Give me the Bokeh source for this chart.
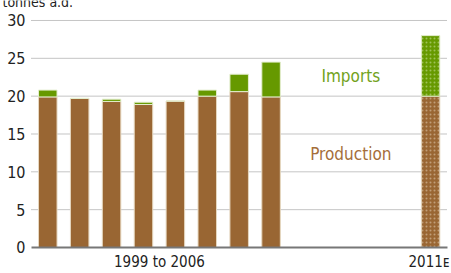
from bokeh.plotting import figure
from bokeh.models import ColumnDataSource, Label, Range1d
from bokeh.core.properties import value
from bokeh.embed import file_html
from bokeh.resources import INLINE

# Data
years_hist = ["1999", "2000", "2001", "2002", "2003", "2004", "2005", "2006"]
pos_hist = [0, 1, 2, 3, 4, 5, 6, 7]
production_hist = [19.9, 19.7, 19.3, 18.9, 19.35, 20.0, 20.6, 19.9]
imports_hist = [0.9, 0.0, 0.3, 0.3, 0.0, 0.8, 2.3, 4.6]
pos_2011 = [12]
production_2011 = [20.0]
imports_2011 = [8.0]
y_ticks = [0, 5, 10, 15, 20, 25, 30]
x_label_pos = [3.5, 11.95]
x_labels = ["1999 to 2006", "2011\u1d07"]
unit_label = "tonnes a.d."

BROWN = "#996633"
GREEN = "#669900"
FONT = "DejaVu Sans Condensed"

X_LO, X_HI = -0.51, 12.53   # extent of the plotted area (grid / axis line)

p = figure(width=451, height=273, output_backend="svg", toolbar_location=None,
           x_range=Range1d(-1.482, 12.656), y_range=Range1d(-3.436, 32.64),
           min_border_left=0, min_border_right=0, min_border_top=0, min_border_bottom=0,
           margin=(0, 0, 0, 0))
p.outline_line_color = None
p.background_fill_color = "white"
p.border_fill_color = "white"
p.xaxis.visible = False
p.yaxis.visible = False
p.xgrid.grid_line_color = None
p.ygrid.grid_line_color = None

# dotted gridlines
grid_src = ColumnDataSource(dict(y=y_ticks[1:]))
p.segment(x0=X_LO, x1=X_HI, y0="y", y1="y", source=grid_src, line_color="#8a8a8a",
          line_dash="1 1", line_width=1)

src = ColumnDataSource(dict(x=pos_hist, prod=production_hist, imp=imports_hist,
                            tot=[a + b for a, b in zip(production_hist, imports_hist)]))
src2 = ColumnDataSource(dict(x=pos_2011, prod=production_2011, imp=imports_2011,
                             tot=[a + b for a, b in zip(production_2011, imports_2011)]))

p.vbar(x="x", bottom=0, top="prod", width=0.58, source=src, fill_color=BROWN,
       line_color="#e6d8c0", line_width=1)
p.vbar(x="x", bottom="prod", top="tot", width=0.58, source=src, fill_color=GREEN,
       line_color="#e4eecf", line_width=1)
p.vbar(x="x", bottom=0, top="prod", width=0.58, source=src2, fill_color=BROWN,
       line_color="#e6d8c0", line_width=1, hatch_pattern=".", hatch_color="#e8d8c0",
       hatch_alpha=0.5, hatch_scale=4, hatch_weight=1)
p.vbar(x="x", bottom="prod", top="tot", width=0.58, source=src2, fill_color=GREEN,
       line_color="#e4eecf", line_width=1, hatch_pattern=".", hatch_color="#d8eab0",
       hatch_alpha=0.5, hatch_scale=4, hatch_weight=1)

# x axis line
p.segment(x0=X_LO, x1=X_HI, y0=y_ticks[0], y1=y_ticks[0], line_color="#777777", line_width=2)

# y tick labels
ylab_src = ColumnDataSource(dict(y=y_ticks, t=[str(v) for v in y_ticks]))
p.text(x=X_LO, y="y", text="t", source=ylab_src, x_offset=-6, text_align="right",
       text_baseline="middle", text_font=value(FONT), text_font_size=value("16px"),
       text_color="#222222")

# x labels
xlab_src = ColumnDataSource(dict(x=x_label_pos, t=x_labels))
p.text(x="x", y=-0.79, text="t", source=xlab_src, text_align="center",
       text_baseline="top", text_font=value(FONT), text_font_size=value("15px"),
       text_color="#222222")

# series labels
p.add_layout(Label(x=9.5, y=22.6, text="Imports", text_font=FONT, text_font_size="17px",
                   text_color="#72a21c", text_align="center", text_baseline="middle"))
p.add_layout(Label(x=9.5, y=12.4, text="Production", text_font=FONT, text_font_size="17px",
                   text_color="#a56e3a", text_align="center", text_baseline="middle"))

# unit label (cut off at top, as in the original)
p.add_layout(Label(x=-1.42, y=32.5, text=unit_label, text_font=FONT,
                   text_font_size="14px", text_color="#222222", text_align="left",
                   text_baseline="alphabetic"))

open("out.html", "w").write(file_html(p, INLINE))
